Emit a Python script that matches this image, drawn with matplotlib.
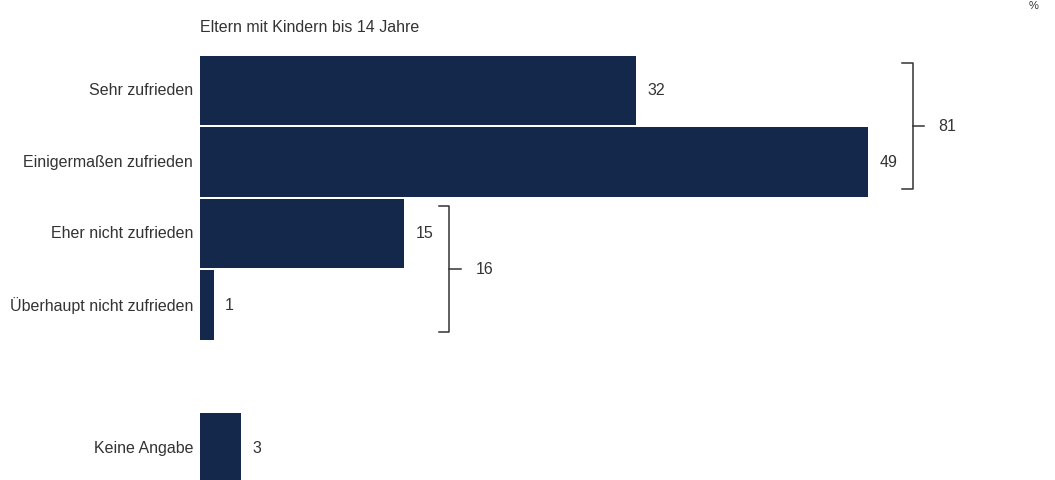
import matplotlib
matplotlib.use("Agg")
import matplotlib.pyplot as plt

# data
categories = ["Sehr zufrieden", "Einigermaßen zufrieden", "Eher nicht zufrieden",
              "Überhaupt nicht zufrieden", "Keine Angabe"]
values = [32, 49, 15, 1, 3]
rows = [0, 1, 2, 3, 5]
group_labels = ["81", "16"]
group_rows = [(0, 1), (2, 3)]
subtitle = "Eltern mit Kindern bis 14 Jahre"

bar_color = "#14284b"
text_color = "#333333"
fs = 11.5
plt.rcParams["font.family"] = ["Liberation Sans", "DejaVu Sans"]

W, H = 1055, 480
fig = plt.figure(figsize=(W / 100, H / 100), dpi=100)
ax = fig.add_axes([200 / W, 0, 855 / W, 1])

px_per_unit = 13.63
pitch = 71.6
ax.set_xlim(0, 855 / px_per_unit)
ax.set_ylim(5 + (480 - 448) / pitch, -0.5 - 55 / pitch)
ax.axis("off")

ax.barh(rows, values, height=0.97, color=bar_color)

for r, v, c in zip(rows, values, categories):
    ax.text(v + 0.85, r, str(v), va="center", ha="left", fontsize=fs, color=text_color)
    ax.annotate(c, xy=(0, r), xytext=(-5, 0), textcoords="offset points",
                va="center", ha="right", fontsize=fs, color=text_color)

# brackets for grouped totals
for lab, (r0, r1) in zip(group_labels, group_rows):
    x = max(values[rows.index(r0)], values[rows.index(r1)]) + 3.3
    y0, y1 = r0 - 0.38, r1 + 0.38
    ym = (y0 + y1) / 2
    hook = 0.8
    ax.plot([x - hook, x, x, x - hook], [y0, y0, y1, y1], color="#333333", lw=1.1,
            solid_joinstyle="round")
    ax.plot([x, x + 0.85], [ym, ym], color="#333333", lw=1.1)
    ax.text(x + 1.9, ym, lab, va="center", ha="left", fontsize=fs, color=text_color)

fig.text(200 / W, 1 - 27 / H, subtitle, ha="left", va="center", fontsize=fs, color=text_color)
fig.text(1034 / W, 1 - 6 / H, "%", ha="center", va="center", fontsize=8, color=text_color)

fig.savefig("out.png", dpi=100, facecolor="white")
